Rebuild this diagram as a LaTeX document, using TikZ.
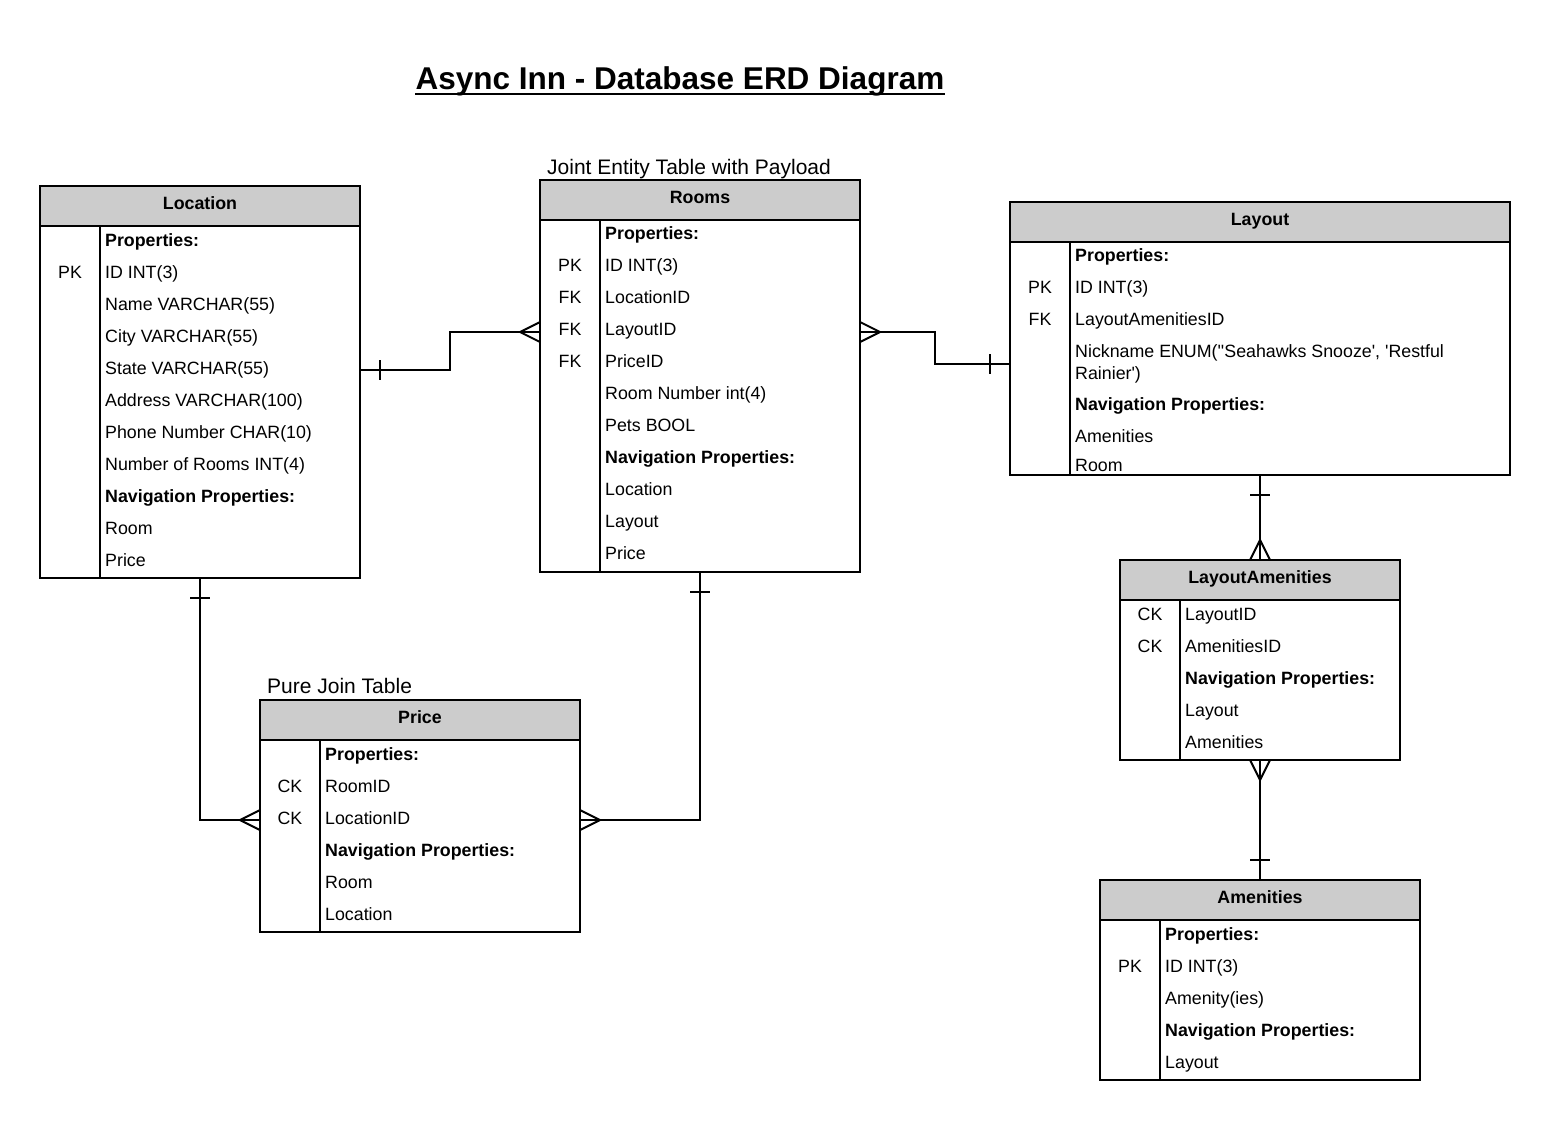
\documentclass[tikz,border=0pt]{standalone}
\usepackage{fontspec}
\setmainfont{Liberation Sans}
\usetikzlibrary{calc}
\definecolor{hdrgray}{HTML}{CCCCCC}
\newcommand\sq{\textquotesingle}
\newcommand\bodyfont{\fontsize{17.8}{21}\selectfont}
\tikzset{
  tabbox/.style={draw, line width=2pt, anchor=north west, inner sep=0pt, outer sep=0pt},
  hdr/.style={draw, fill=hdrgray, line width=2pt, anchor=north west, inner sep=0pt, outer sep=0pt},
  hdrtext/.style={anchor=base, font=\bodyfont\bfseries, inner sep=0pt},
  fld/.style={anchor=base west, font=\bodyfont, inner sep=0pt},
  bfld/.style={anchor=base west, font=\bodyfont\bfseries, inner sep=0pt},
  keyt/.style={anchor=base, font=\bodyfont, inner sep=0pt},
  conn/.style={draw, line width=2pt},
  crowmark/.style={draw, line width=2pt},
  note/.style={anchor=base west, font=\fontsize{21}{25}\selectfont, inner sep=0pt},
}
% #1 name, #2 left, #3 top, #4 width, #5 height, #6 title
\newcommand\erdtable[6]{%
  \node[hdr, minimum width=#4pt, minimum height=40pt] (#1-h) at (#2,#3) {};
  \node[tabbox, minimum width=#4pt, minimum height=#5pt] (#1) at (#2,#3) {};
  \node[hdrtext] (#1-t) at ($(#1-h.north)+(0,23)$) {#6};
  \draw[line width=2pt] ($(#1-h.south west)+(60,0)$) -- ($(#1.south west)+(60,0)$);
}
\begin{document}
\begin{tikzpicture}[x=1pt,y=-1pt]
\useasboundingbox (0,0) rectangle (1550,1120);

% Title
\node[anchor=base, font=\fontsize{31.5}{36}\selectfont\bfseries, inner sep=0pt] (title) at (680,89) {Async Inn - Database ERD Diagram};
\draw[line width=2.4pt] ($(title.base west)+(0,5)$) -- ($(title.base east)+(0,5)$);

% Notes
\node[note] (jnote) at (547,174) {Joint Entity Table with Payload};
\node[note] (pnote) at (267,693) {Pure Join Table};

% Location
\erdtable{loc}{40}{186}{320}{392}{Location}
\node[bfld] (loc1) at (105,246) {Properties:};
\node[keyt] (lock1) at (70,278) {PK};
\node[fld] (loc2) at (105,278) {ID INT(3)};
\node[fld] (loc3) at (105,310) {Name VARCHAR(55)};
\node[fld] (loc4) at (105,342) {City VARCHAR(55)};
\node[fld] (loc5) at (105,374) {State VARCHAR(55)};
\node[fld] (loc6) at (105,406) {Address VARCHAR(100)};
\node[fld] (loc7) at (105,438) {Phone Number CHAR(10)};
\node[fld] (loc8) at (105,470) {Number of Rooms INT(4)};
\node[bfld] (loc9) at (105,502) {Navigation Properties:};
\node[fld] (loc10) at (105,534) {Room};
\node[fld] (loc11) at (105,566) {Price};

% Rooms
\erdtable{rooms}{540}{180}{320}{392}{Rooms}
\node[bfld] (ro1) at (605,239) {Properties:};
\node[keyt] (rok1) at (570,271) {PK};
\node[fld] (ro2) at (605,271) {ID INT(3)};
\node[keyt] (rok2) at (570,303) {FK};
\node[fld] (ro3) at (605,303) {LocationID};
\node[keyt] (rok3) at (570,335) {FK};
\node[fld] (ro4) at (605,335) {LayoutID};
\node[keyt] (rok4) at (570,367) {FK};
\node[fld] (ro5) at (605,367) {PriceID};
\node[fld] (ro6) at (605,399) {Room Number int(4)};
\node[fld] (ro7) at (605,431) {Pets BOOL};
\node[bfld] (ro8) at (605,463) {Navigation Properties:};
\node[fld] (ro9) at (605,495) {Location};
\node[fld] (ro10) at (605,527) {Layout};
\node[fld] (ro11) at (605,559) {Price};

% Layout
\erdtable{lay}{1010}{202}{500}{273}{Layout}
\node[bfld] (ly1) at (1075,261) {Properties:};
\node[keyt] (lyk1) at (1040,293) {PK};
\node[fld] (ly2) at (1075,293) {ID INT(3)};
\node[keyt] (lyk2) at (1040,325) {FK};
\node[fld] (ly3) at (1075,325) {LayoutAmenitiesID};
\node[fld] (ly4) at (1075,357) {Nickname ENUM(\sq\sq Seahawks Snooze\sq, \sq Restful};
\node[fld] (ly4b) at (1075,379) {Rainier\sq)};
\node[bfld] (ly5) at (1075,410) {Navigation Properties:};
\node[fld] (ly6) at (1075,442) {Amenities};
\node[fld] (ly7) at (1075,471) {Room};

% LayoutAmenities
\erdtable{la}{1120}{560}{280}{200}{LayoutAmenities}
\node[keyt] (lak1) at (1150,620) {CK};
\node[fld] (la1) at (1185,620) {LayoutID};
\node[keyt] (lak2) at (1150,652) {CK};
\node[fld] (la2) at (1185,652) {AmenitiesID};
\node[bfld] (la3) at (1185,684) {Navigation Properties:};
\node[fld] (la4) at (1185,716) {Layout};
\node[fld] (la5) at (1185,748) {Amenities};

% Amenities
\erdtable{am}{1100}{880}{320}{200}{Amenities}
\node[bfld] (am1) at (1165,940) {Properties:};
\node[keyt] (amk1) at (1130,972) {PK};
\node[fld] (am2) at (1165,972) {ID INT(3)};
\node[fld] (am3) at (1165,1004) {Amenity(ies)};
\node[bfld] (am4) at (1165,1036) {Navigation Properties:};
\node[fld] (am5) at (1165,1068) {Layout};

% Price
\erdtable{price}{260}{700}{320}{232}{Price}
\node[bfld] (pr1) at (325,760) {Properties:};
\node[keyt] (prk1) at (290,792) {CK};
\node[fld] (pr2) at (325,792) {RoomID};
\node[keyt] (prk2) at (290,824) {CK};
\node[fld] (pr3) at (325,824) {LocationID};
\node[bfld] (pr4) at (325,856) {Navigation Properties:};
\node[fld] (pr5) at (325,888) {Room};
\node[fld] (pr6) at (325,920) {Location};

% Connectors
% Location -- Rooms
\draw[conn] (loc.east |- 0,370) -- ++(90,0) |- (rooms.west |- 0,332);
\draw[crowmark] (380,360) -- (380,380);
\draw[crowmark] (540,322) -- (520,332) -- (540,342);
% Rooms -- Layout
\draw[conn] (rooms.east |- 0,332) -- ++(75,0) |- (lay.west |- 0,364);
\draw[crowmark] (860,322) -- (880,332) -- (860,342);
\draw[crowmark] (990,354) -- (990,374);
% Layout -- LayoutAmenities
\draw[conn] (lay.south) -- (la-h.north);
\draw[crowmark] (1250,495) -- (1270,495);
\draw[crowmark] (1250,560) -- (1260,540) -- (1270,560);
% LayoutAmenities -- Amenities
\draw[conn] (la.south) -- (am-h.north);
\draw[crowmark] (1250,760) -- (1260,780) -- (1270,760);
\draw[crowmark] (1250,860) -- (1270,860);
% Location -- Price
\draw[conn] (loc.south) |- (price.west |- 0,820);
\draw[crowmark] (190,598) -- (210,598);
\draw[crowmark] (260,810) -- (240,820) -- (260,830);
% Rooms -- Price
\draw[conn] (rooms.south) |- (price.east |- 0,820);
\draw[crowmark] (690,592) -- (710,592);
\draw[crowmark] (580,810) -- (600,820) -- (580,830);
\end{tikzpicture}
\end{document}
